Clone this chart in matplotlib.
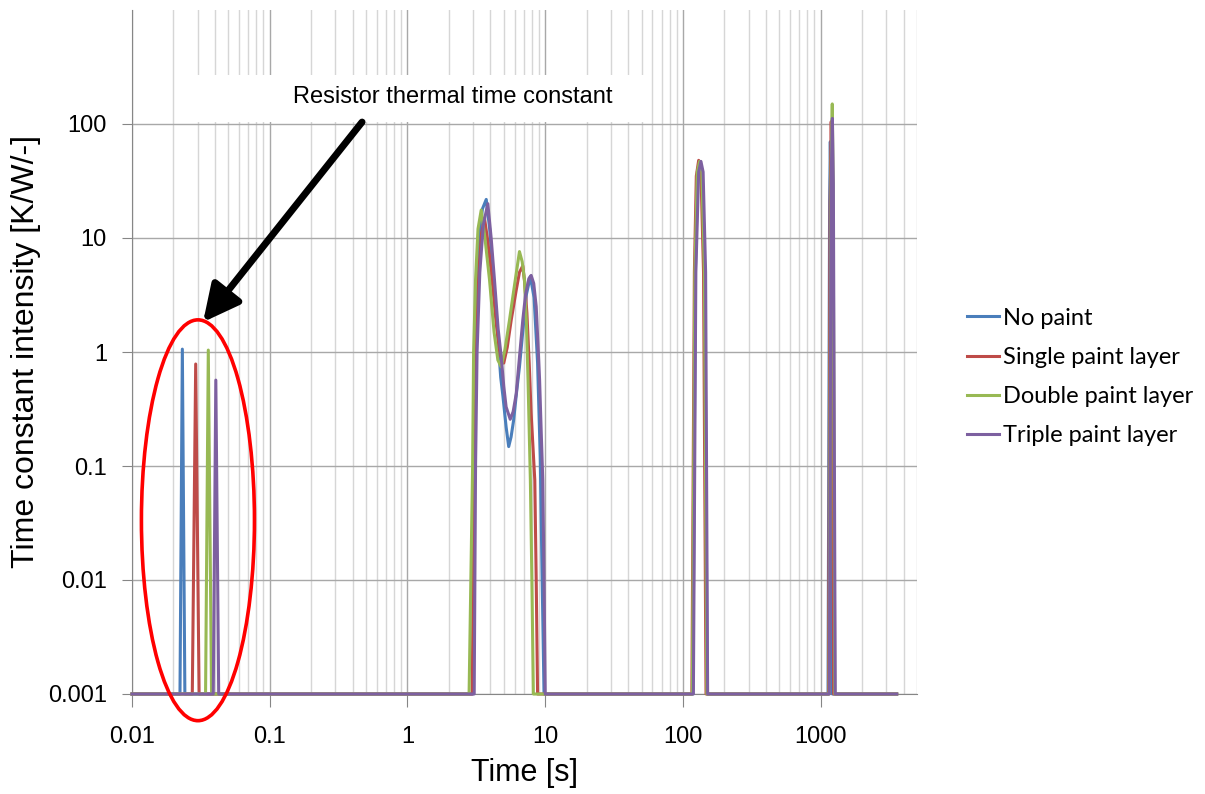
import matplotlib
matplotlib.use("Agg")
import matplotlib.pyplot as plt
from matplotlib.patches import Ellipse, Rectangle
from matplotlib.ticker import LogLocator, NullLocator

# values (time [s], intensity [K/W/-]); 0.001 is the axis floor
no_paint_t = [0.01, 0.0223, 0.0232, 0.0242,
              2.98, 3.05, 3.15, 3.3, 3.5, 3.73, 3.95, 4.2, 4.5, 4.75, 4.93, 5.2, 5.43, 5.65,
              5.89, 6.2, 6.5, 6.9, 7.3, 7.8, 8.3, 8.8, 9.2, 9.5, 9.8,
              118, 123, 128, 133, 138, 144, 150,
              1130, 1160, 1174, 1188, 1215, 3560]
no_paint_v = [0.001, 0.001, 1.06, 0.001,
              0.001, 0.1, 2, 10, 18, 21.8, 12, 4.5, 1.5, 0.6, 0.41, 0.22, 0.148, 0.18,
              0.25, 0.45, 0.74, 1.6, 3.2, 4.6, 3.0, 0.8, 0.12, 0.01, 0.001,
              0.001, 5, 36, 46, 36, 5, 0.001,
              0.001, 20, 70, 20, 0.001, 0.001]

single_t = [0.01, 0.0274, 0.0290, 0.0307,
            2.95, 3.05, 3.15, 3.3, 3.45, 3.62, 3.8, 4.1, 4.4, 4.7, 5.0, 5.3, 5.66, 6.16,
            6.5, 6.87, 7.1, 7.36, 7.65, 7.9, 8.4, 8.6, 8.8,
            116, 121, 125, 130, 135, 141, 147,
            1140, 1170, 1192, 1210, 1240, 3560]
single_v = [0.001, 0.001, 0.785, 0.001,
            0.001, 0.1, 1.0, 5, 11, 15, 10, 4.5, 1.8, 0.95, 0.8, 1.1, 1.9, 3.5,
            5.0, 5.7, 4.0, 2.2, 0.8, 0.29, 0.075, 0.01, 0.001,
            0.001, 5, 35, 48, 38, 5, 0.001,
            0.001, 20, 105, 30, 0.001, 0.001]

double_t = [0.01, 0.0342, 0.0358, 0.0378,
            2.80, 2.97, 3.02, 3.12, 3.25, 3.43, 3.65, 3.94, 4.25, 4.53, 4.79, 5.1, 5.5,
            5.85, 6.16, 6.5, 6.8, 7.07, 7.3, 7.5, 7.8, 8.0, 8.2,
            117, 122, 127, 132, 137, 143, 149,
            1150, 1185, 1213, 1230, 1265, 3560]
double_v = [0.001, 0.001, 1.04, 0.001,
            0.001, 0.1, 1.0, 4.3, 12, 17.6, 10, 4.3, 1.5, 0.85, 0.74, 1.05, 1.9,
            3.2, 4.9, 7.6, 6.2, 4.3, 1.8, 0.57, 0.075, 0.01, 0.001,
            0.001, 5, 38, 47, 38, 5, 0.001,
            0.001, 30, 150, 30, 0.001, 0.001]

triple_t = [0.01, 0.0389, 0.0406, 0.0426,
            3.05, 3.12, 3.2, 3.35, 3.55, 3.83, 4.05, 4.28, 4.55, 4.79, 5.0, 5.2, 5.57,
            5.85, 6.16, 6.5, 6.87, 7.2, 7.6, 7.9, 8.25, 8.6, 8.85, 9.1, 9.35, 9.6, 9.8, 10.0,
            119, 124, 130, 135, 140, 146, 151,
            1155, 1190, 1215, 1235, 1275, 3560]
triple_v = [0.001, 0.001, 0.567, 0.001,
            0.001, 0.1, 1.0, 5, 13, 20, 10, 4.3, 1.6, 0.91, 0.5, 0.33, 0.257,
            0.3, 0.43, 0.9, 1.9, 3.2, 4.4, 4.7, 4.0, 2.5, 1.2, 0.57, 0.2, 0.075, 0.01, 0.001,
            0.001, 5, 38, 47, 38, 5, 0.001,
            0.001, 30, 112, 30, 0.001, 0.001]

series = [
    ("No paint", no_paint_t, no_paint_v, "#4a7ebb"),
    ("Single paint layer", single_t, single_v, "#be4b48"),
    ("Double paint layer", double_t, double_v, "#98b954"),
    ("Triple paint layer", triple_t, triple_v, "#7d60a0"),
]

x_ticks = [0.01, 0.1, 1, 10, 100, 1000]
x_labels = ["0.01", "0.1", "1", "10", "100", "1000"]
y_ticks = [0.001, 0.01, 0.1, 1, 10, 100]
y_labels = ["0.001", "0.01", "0.1", "1", "10", "100"]

plt.rcParams["font.family"] = ["Liberation Sans", "DejaVu Sans"]

fig = plt.figure(figsize=(12.05, 7.94), dpi=100)
W, H = 1205, 794
ax = fig.add_axes([132 / W, 1 - 694 / H, 785 / W, 684 / H])

for name, t, v, col in series:
    ax.plot(t, v, color=col, lw=2.2, label=name, clip_on=False, zorder=3)

ax.set_xscale("log")
ax.set_yscale("log")
ax.set_xlim(0.01, 5000)
ax.set_ylim(0.001, 1000)
ax.set_xticks(x_ticks, x_labels)
ax.set_yticks(y_ticks, y_labels)
ax.xaxis.set_minor_locator(LogLocator(base=10, subs=range(2, 10)))
ax.yaxis.set_minor_locator(NullLocator())

ax.set_axisbelow(True)
ax.grid(which="major", axis="both", color="#a8a8a8", lw=1)
ax.grid(which="minor", axis="x", color="#d6d6d6", lw=1)

for s in ["top", "right"]:
    ax.spines[s].set_visible(False)
for s in ["left", "bottom"]:
    ax.spines[s].set_color("#868686")

ax.tick_params(axis="x", which="major", direction="out", length=9, color="#868686",
               pad=14, labelsize=17)
ax.tick_params(axis="x", which="minor", length=0)
ax.tick_params(axis="y", which="major", direction="out", length=7, color="#868686",
               pad=11, labelsize=17)

ax.set_xlabel("Time [s]", fontsize=22, labelpad=7)
ax.set_ylabel("Time constant intensity [K/W/-]", fontsize=23, labelpad=5)

# white text box of the annotation (covers grid)
ax.add_patch(Rectangle((0.056, 0.836), 0.604, 0.069, transform=ax.transAxes,
                       facecolor="white", edgecolor="none", zorder=1.5))
ax.text(0.409, 0.873, "Resistor thermal time constant", transform=ax.transAxes,
        ha="center", va="center", fontsize=17, zorder=4)

# arrow and ellipse
ax.annotate("", xy=(0.0328, 1.83), xytext=(0.468, 104),
            arrowprops=dict(arrowstyle="-|>,head_length=1.1,head_width=0.55",
                            color="black", lw=5, mutation_scale=20,
                            shrinkA=0, shrinkB=0),
            zorder=5)
ax.add_patch(Ellipse((0.084, 0.254), 0.144, 0.586, transform=ax.transAxes,
                     facecolor="none", edgecolor="#ff0000", lw=2.6,
                     clip_on=False, zorder=5))

leg = ax.legend(loc="center left", bbox_to_anchor=(967 / W, 1 - 377 / H),
                bbox_transform=fig.transFigure, frameon=False, borderaxespad=0,
                borderpad=0, handlelength=1.36, handletextpad=0.17,
                labelspacing=0.77, prop={"family": ["Lato", "DejaVu Sans"], "size": 17})
for line in leg.get_lines():
    line.set_linewidth(2.2)

fig.savefig("out.png", dpi=100, facecolor="white")
